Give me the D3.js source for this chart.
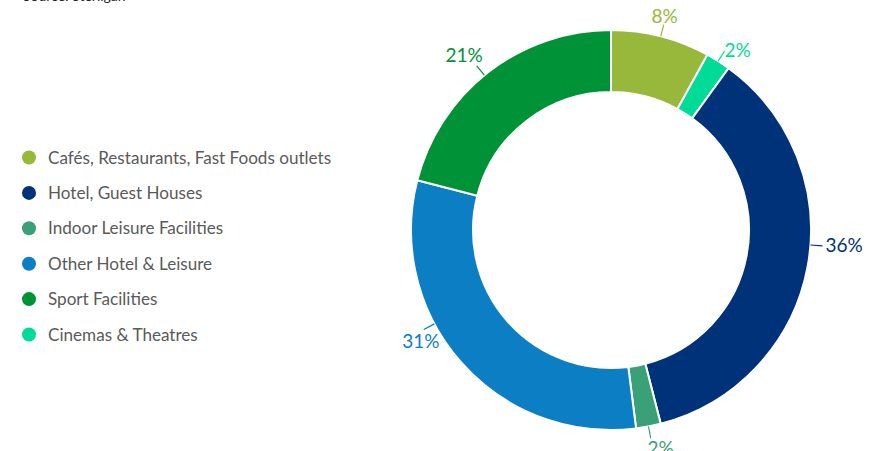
<!DOCTYPE html>
<html>
<head>
<meta charset="utf-8">
<script src="https://cdn.jsdelivr.net/npm/d3@7"></script>
<style>
  html, body { margin: 0; padding: 0; background: #fff; }
  svg { display: block; font-family: "Source Sans Pro", Lato, "Open Sans", sans-serif; }
</style>
</head>
<body>
<svg id="chart" width="892" height="451"></svg>
<script>
// Share of sites by leisure category (%)
const categories = [
  "Cafés, Restaurants, Fast Foods outlets",
  "Cinemas & Theatres",
  "Hotel, Guest Houses",
  "Indoor Leisure Facilities",
  "Other Hotel & Leisure",
  "Sport Facilities"
];
const shares = [8, 2, 36, 2, 31, 21];
const colors = ["#97b83b", "#00dc98", "#00327a", "#3aa078", "#0b7ec4", "#009236"];

// Legend order differs from slice order
const legendOrder = [
  "Cafés, Restaurants, Fast Foods outlets",
  "Hotel, Guest Houses",
  "Indoor Leisure Facilities",
  "Other Hotel & Leisure",
  "Sport Facilities",
  "Cinemas & Theatres"
];

const sourceText = "Source: Sterligan";

const svg = d3.select("#chart");
const cx = 611, cy = 230, outerR = 200, innerR = 138;
const deg = Math.PI / 180;

const data = categories.map((c, i) => ({ name: c, value: shares[i], color: colors[i] }));
const colorOf = d3.scaleOrdinal().domain(categories).range(colors);

const pie = d3.pie().value(d => d.value).sort(null);
const arc = d3.arc().innerRadius(innerR).outerRadius(outerR);
const arcs = pie(data);

const g = svg.append("g").attr("transform", `translate(${cx},${cy})`);

g.selectAll("path.slice")
  .data(arcs)
  .join("path")
  .attr("class", "slice")
  .attr("d", arc)
  .attr("fill", d => d.data.color)
  .attr("stroke", "#fff")
  .attr("stroke-width", 2)
  .attr("stroke-linejoin", "miter");

// Label placement: angular nudge (deg) for the leader, text anchor and offsets from the leader tip
const labelLayout = [
  { nudge: 0,    anchor: "middle", dx: 1,  dy: -2 },
  { nudge: 0,    anchor: "start",  dx: 0,  dy: 6 },
  { nudge: -6.5, anchor: "start",  dx: 3,  dy: 6 },
  { nudge: 0,    anchor: "middle", dx: 10, dy: 17 },
  { nudge: 13.4, anchor: "middle", dx: -3, dy: 18 },
  { nudge: -1.5, anchor: "end",    dx: 6,  dy: -4 }
];

const r0 = outerR, r1 = outerR + 12;
arcs.forEach((a, i) => {
  const L = labelLayout[i];
  const ang = (a.startAngle + a.endAngle) / 2 + L.nudge * deg;
  const sx = Math.sin(ang), sy = -Math.cos(ang);
  const x1 = r1 * sx, y1 = r1 * sy;
  g.append("line")
    .attr("x1", r0 * sx).attr("y1", r0 * sy)
    .attr("x2", x1).attr("y2", y1)
    .attr("stroke", a.data.color)
    .attr("stroke-width", 1.2);
  g.append("text")
    .attr("x", x1 + L.dx)
    .attr("y", y1 + L.dy)
    .attr("text-anchor", L.anchor)
    .attr("fill", a.data.color)
    .attr("font-size", 19)
    .text(a.data.value + "%");
});

// Legend
const legend = svg.append("g").attr("transform", "translate(29,157.5)");
const item = legend.selectAll("g.item")
  .data(legendOrder)
  .join("g")
  .attr("class", "item")
  .attr("transform", (d, i) => `translate(0,${i * 35.4})`);
item.append("circle").attr("r", 7).attr("fill", d => colorOf(d));
item.append("text")
  .attr("x", 19)
  .attr("y", 6)
  .attr("fill", "#5a5a5a")
  .attr("font-size", 17.1)
  .text(d => d);

// Source note (partly off the top edge)
svg.append("text")
  .attr("x", 23).attr("y", 1)
  .attr("fill", "#222")
  .attr("font-size", 14)
  .text(sourceText);
</script>
</body>
</html>
